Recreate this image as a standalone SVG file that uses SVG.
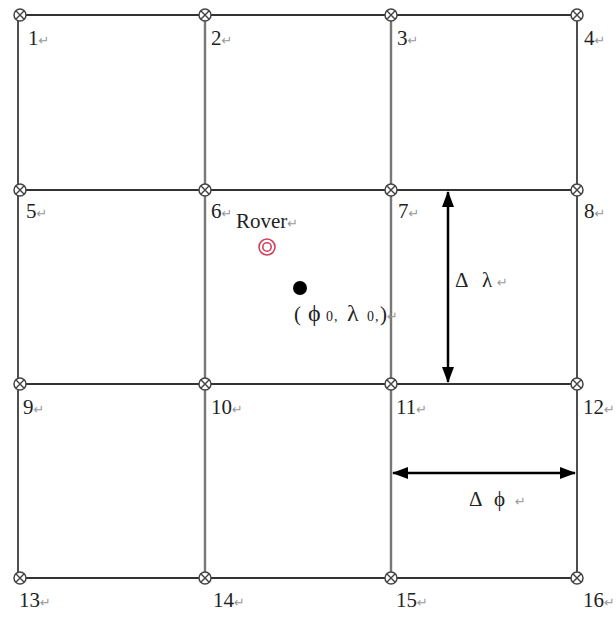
<svg xmlns="http://www.w3.org/2000/svg" width="616" height="617" viewBox="0 0 616 617">
<style>
.hl{stroke:#333;stroke-width:2;fill:none}
.vo{stroke:#222;stroke-width:1.6;fill:none}
.vi{stroke:#777;stroke-width:2.4;fill:none}
.lbl{font-family:"Liberation Serif","Times New Roman",serif;font-size:21px;fill:#222}
.ret{font-family:"DejaVu Sans",sans-serif;font-size:13px;fill:#999}
.arr{stroke:#000;stroke-width:2.5;fill:none}
.sub{font-size:14px}
.big{font-size:24px}
</style>
<defs>
<g id="pt">
<circle cx="0" cy="0" r="6" fill="#fff" stroke="#444" stroke-width="1.5"/>
<path d="M-4.2,-4.2L4.2,4.2M4.2,-4.2L-4.2,4.2" stroke="#444" stroke-width="1.4"/>
</g>
<marker id="ah" markerUnits="userSpaceOnUse" markerWidth="16" markerHeight="14" refX="15" refY="6" orient="auto-start-reverse" viewBox="0 0 16 12">
<path d="M0,0L16,6L0,12Z" fill="#000"/>
</marker>
</defs>
<g id="connectors">
<line class="hl" x1="18" y1="15" x2="577" y2="15"/>
<line class="hl" x1="18" y1="190" x2="577" y2="190"/>
<line class="hl" x1="18" y1="384" x2="577" y2="384"/>
<line class="hl" x1="18" y1="578" x2="577" y2="578"/>
<line class="vo" x1="18" y1="15" x2="18" y2="578"/>
<line class="vi" x1="205" y1="15" x2="205" y2="578"/>
<line class="vi" x1="391" y1="15" x2="391" y2="578"/>
<line class="vo" x1="577" y1="15" x2="577" y2="578"/>
<line class="arr" x1="448" y1="192" x2="448" y2="382" marker-start="url(#ah)" marker-end="url(#ah)"/>
<line class="arr" x1="393" y1="473" x2="575" y2="473" marker-start="url(#ah)" marker-end="url(#ah)"/>
</g>
<g id="n1"><use href="#pt" x="20" y="15"/><text class="lbl" x="28" y="45">1<tspan class="ret">↵</tspan></text></g>
<g id="n2"><use href="#pt" x="205" y="15"/><text class="lbl" x="211" y="45">2<tspan class="ret">↵</tspan></text></g>
<g id="n3"><use href="#pt" x="391" y="15"/><text class="lbl" x="397" y="45">3<tspan class="ret">↵</tspan></text></g>
<g id="n4"><use href="#pt" x="577" y="15"/><text class="lbl" x="584" y="45">4<tspan class="ret">↵</tspan></text></g>
<g id="n5"><use href="#pt" x="20" y="190"/><text class="lbl" x="26" y="218">5<tspan class="ret">↵</tspan></text></g>
<g id="n6"><use href="#pt" x="205" y="190"/><text class="lbl" x="211" y="218">6<tspan class="ret">↵</tspan></text></g>
<g id="n7"><use href="#pt" x="391" y="190"/><text class="lbl" x="398" y="218">7<tspan class="ret">↵</tspan></text></g>
<g id="n8"><use href="#pt" x="577" y="190"/><text class="lbl" x="584" y="218">8<tspan class="ret">↵</tspan></text></g>
<g id="n9"><use href="#pt" x="20" y="384"/><text class="lbl" x="23" y="414">9<tspan class="ret">↵</tspan></text></g>
<g id="n10"><use href="#pt" x="205" y="384"/><text class="lbl" x="211" y="414">10<tspan class="ret">↵</tspan></text></g>
<g id="n11"><use href="#pt" x="391" y="384"/><text class="lbl" x="396" y="414">11<tspan class="ret">↵</tspan></text></g>
<g id="n12"><use href="#pt" x="577" y="384"/><text class="lbl" x="583" y="414">12<tspan class="ret">↵</tspan></text></g>
<g id="n13"><use href="#pt" x="20" y="578"/><text class="lbl" x="19" y="607">13<tspan class="ret">↵</tspan></text></g>
<g id="n14"><use href="#pt" x="205" y="578"/><text class="lbl" x="213" y="607">14<tspan class="ret">↵</tspan></text></g>
<g id="n15"><use href="#pt" x="391" y="578"/><text class="lbl" x="396" y="607">15<tspan class="ret">↵</tspan></text></g>
<g id="n16"><use href="#pt" x="577" y="578"/><text class="lbl" x="583" y="607">16<tspan class="ret">↵</tspan></text></g>
<g id="rover">
<text class="lbl" x="236" y="228">Rover<tspan class="ret">↵</tspan></text>
<circle cx="267" cy="247" r="8" fill="none" stroke="#d0405a" stroke-width="1.6"/>
<circle cx="267" cy="247" r="4.2" fill="none" stroke="#d0405a" stroke-width="1.6"/>
</g>
<g id="origin">
<circle cx="300" cy="288" r="7" fill="#000"/>
<text class="lbl" y="321"><tspan x="294">(</tspan><tspan class="big" x="308">ϕ</tspan><tspan class="sub" x="326">0</tspan><tspan class="sub" x="334">,</tspan><tspan class="big" x="347">λ</tspan><tspan class="sub" x="367">0</tspan><tspan class="sub" x="375">,</tspan><tspan x="380">)</tspan><tspan class="ret" x="387">↵</tspan></text>
</g>
<g id="dlambda"><text class="lbl" x="455" y="287">Δ<tspan x="482">λ</tspan><tspan class="ret" x="497">↵</tspan></text></g>
<g id="dphi"><text class="lbl" x="469" y="506">Δ<tspan x="494">ϕ</tspan><tspan class="ret" x="515">↵</tspan></text></g>
</svg>
